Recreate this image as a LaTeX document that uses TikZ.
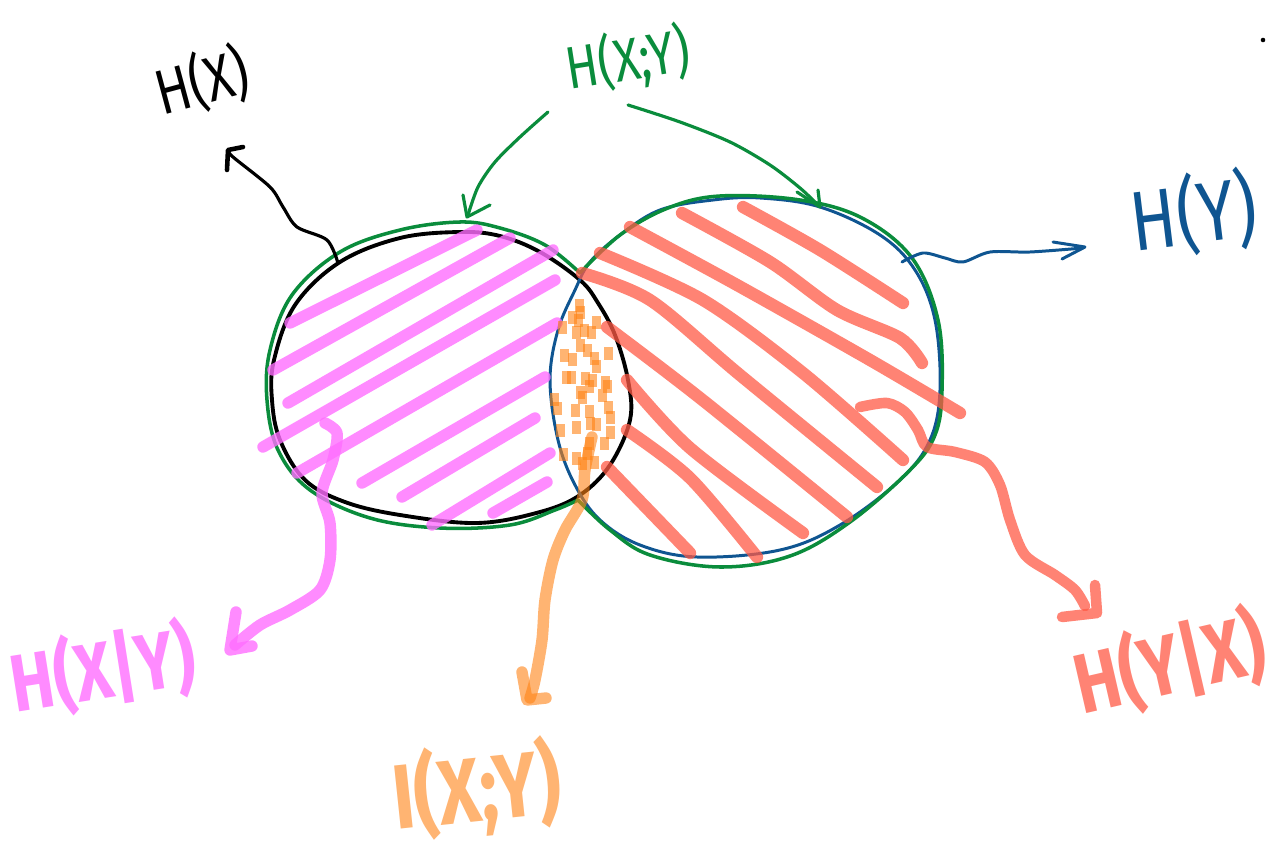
\documentclass[tikz,border=0pt]{standalone}
\usepackage{fontspec}
\newfontfamily\hand[FakeStretch=0.8]{Fira Sans}
\definecolor{gr}{RGB}{10,140,60}
\definecolor{bl}{RGB}{15,85,145}
\definecolor{pk}{RGB}{255,110,255}
\definecolor{rd}{RGB}{255,90,70}
\definecolor{og}{RGB}{255,130,20}
\begin{document}
\begin{tikzpicture}[x=0.02cm,y=-0.02cm,line cap=round,line join=round,
  blackpen/.style={draw=black,line width=2.2pt},
  greenpen/.style={draw=gr,line width=2pt},
  bluepen/.style={draw=bl,line width=1.7pt},
  pinkmark/.style={draw=pk,draw opacity=0.8,line width=6.5pt},
  redmark/.style={draw=rd,draw opacity=0.75,line width=7pt},
  orangemark/.style={draw=og,draw opacity=0.6,line width=6.5pt},
  dotmark/.style={fill=og,fill opacity=0.6},
  lbl/.style={inner sep=0pt,font=\hand}]
\useasboundingbox (0,0) rectangle (1277,841);
\fill[white] (0,0) rectangle (1277,841);

% circles
\draw[blackpen] plot[smooth cycle,tension=0.6] coordinates {(580,280) (540,252) (500,236) (460,232) (400,238) (340,262) (295,305) (274,360) (272,400) (280,440) (305,480) (345,502) (400,515) (477,523) (540,512) (580,495) (610,465) (630,420) (628,380) (615,335) (598,303)};
\draw[bluepen] plot[smooth cycle,tension=0.6] coordinates {(575,485) (600,520) (640,545) (697,557) (780,550) (840,525) (900,480) (930,440) (940,390) (935,320) (915,270) (880,235) (820,207) (760,198) (713,200) (660,210) (620,235) (590,262) (575,290) (558,330) (550,380) (558,440)};
\draw[greenpen] plot[smooth,tension=0.6] coordinates {(580,273) (545,245) (500,228) (460,222) (400,230) (340,252) (292,295) (270,350) (267,400) (278,450) (310,490) (370,518) (440,528) (510,525) (555,510) (578,500)};
\draw[greenpen] plot[smooth,tension=0.6] coordinates {(578,500) (610,530) (650,555) (720,567) (790,556) (850,522) (910,470) (935,435) (942,390) (938,320) (912,258) (862,218) (800,200) (720,196) (668,208) (620,235) (580,273)};

% pink hatching
\draw[pinkmark] (290,323) -- (477,230);
\draw[pinkmark] (273,370) -- (510,238);
\draw[pinkmark] (288,403) -- (553,250);
\draw[pinkmark] (263,447) -- (555,280);
\draw[pinkmark] (297,473) -- (557,323);
\draw[pinkmark] (362,483) -- (545,377);
\draw[pinkmark] (402,497) -- (535,418);
\draw[pinkmark] (432,525) -- (550,453);
\draw[pinkmark] (493,513) -- (547,482);

% red hatching
\draw[redmark] plot[smooth] coordinates {(743,207) (820,250) (903,303)};
\draw[redmark] plot[smooth] coordinates {(682,213) (770,262) (837,310) (900,338) (922,363)};
\draw[redmark] plot[smooth] coordinates {(630,227) (737,285) (870,360) (960,413)};
\draw[redmark] plot[smooth] coordinates {(600,253) (703,300) (803,373) (903,460)};
\draw[redmark] plot[smooth] coordinates {(582,273) (650,300) (740,375) (877,487)};
\draw[redmark] plot[smooth] coordinates {(607,327) (700,398) (847,517)};
\draw[redmark] plot[smooth] coordinates {(627,380) (690,448) (803,533)};
\draw[redmark] plot[smooth] coordinates {(627,430) (690,478) (757,557)};
\draw[redmark] plot[smooth] coordinates {(607,467) (690,553)};

% orange stipple
\foreach \a/\b in {120/75,100/110,122/95,118/120,170/125,110/155,155/155,135/150,75/225,98/238,122/195,145/210,165/235,172/258,208/220,82/290,97/290,137/295,160/300,198/305,203/318,150/318,122/335,128/350,188/345,45/358,53/385,107/390,150/392,207/380,212/410,62/450,110/440,152/428,170/432,212/455,195/490,150/490,72/522,112/535,145/520,165/545,130/550,70/140}
  \fill[dotmark] ({\a/3+535},{\b/3+274}) rectangle ++(9,13);

% labels
\node[lbl,text=black,rotate=15,font=\hand\fontsize{36}{40}\selectfont] (hx) at (202,82) {H(X)};
\node[lbl,text=gr,rotate=9,font=\hand\fontsize{34}{40}\selectfont] (hxy) at (628,60) {H(X;Y)};
\node[lbl,text=bl,rotate=7,font=\hand\fontsize{48}{52}\selectfont] (hy) at (1194,214) {H(Y)};
\node[lbl,text=pk,text opacity=0.8,rotate=9,font=\hand\bfseries\fontsize{46}{50}\selectfont] (hxgy) at (103,670) {H(X|Y)};
\node[lbl,text=og,text opacity=0.6,rotate=6,font=\hand\bfseries\fontsize{52}{56}\selectfont] (ixy) at (477,790) {I(X;Y)};
\node[lbl,text=rd,text opacity=0.75,rotate=13,font=\hand\bfseries\fontsize{48}{52}\selectfont] (hygx) at (1170,664) {H(Y|X)};

% connectors
\draw[blackpen,line width=1.8pt] plot[smooth] coordinates {(338,263) (327,240) (297,227) (283,207) (270,187) (233,157) (228,150)};
\draw[blackpen,line width=2.6pt] (227,170) -- (228,150) -- (243,147);

\draw[greenpen,line width=1.8pt] plot[smooth] coordinates {(548,112) (520,137) (495,162) (478,187) (468,215)};
\draw[greenpen,line width=1.8pt] (463,195) -- (467,217) -- (490,205);
\draw[greenpen,line width=1.8pt] plot[smooth] coordinates {(628,105) (680,122) (730,142) (770,165) (800,188) (819,206)};
\draw[greenpen,line width=1.8pt] (797,192) -- (820,207) -- (818,190);

\draw[bluepen] plot[smooth] coordinates {(902,262) (923,253) (945,258) (963,262) (990,252) (1030,252) (1083,248)};
\draw[bluepen] (1053,242) -- (1085,247) -- (1062,259);

\draw[pinkmark] plot[smooth] coordinates {(325,423) (337,433) (333,460) (322,493) (330,523) (330,560) (320,590) (290,610) (260,625) (235,645)};
\draw[pinkmark] (236,612) -- (230,650) -- (252,646);

\draw[orangemark] plot[smooth] coordinates {(592,437) (585,470) (582,500) (565,530) (553,560) (545,600) (542,640) (535,680) (530,698)};
\draw[orangemark] (522,672) -- (527,700) -- (546,698);

\draw[redmark,line width=6pt] plot[smooth] coordinates {(860,407) (887,403) (905,412) (918,430) (927,447) (955,452) (985,462) (1000,485) (1010,520) (1025,555) (1055,575) (1075,590) (1085,606)};
\draw[redmark,line width=6pt] (1062,617) -- (1097,613) -- (1095,585);

% stray dot
\fill (1263,40) circle (1.3pt);
\end{tikzpicture}
\end{document}
